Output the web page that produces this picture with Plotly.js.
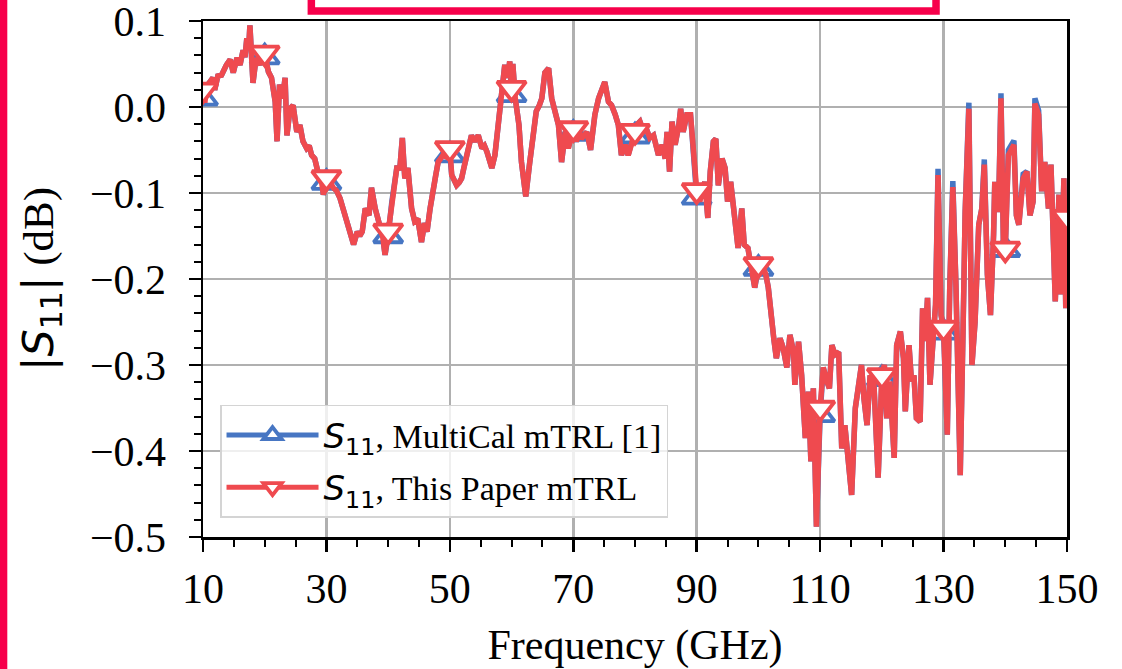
<!DOCTYPE html>
<html>
<head>
<meta charset="utf-8">
<script src="https://cdn.plot.ly/plotly-3.0.1.min.js"></script>
<style>
  html, body { margin: 0; padding: 0; background: #ffffff; }
  #chart { width: 1122px; height: 669px; }
</style>
</head>
<body>
<div id="chart"></div>
<script>
// Frequency sweep (GHz)
const freqGHz = [
  10.0, 10.3, 10.6, 11.1, 11.6, 11.9, 12.4, 13.0, 13.5, 13.8,
  14.4, 14.9, 15.5, 16.0, 16.5, 16.8, 17.1, 17.4, 17.6, 17.9,
  18.1, 18.6, 19.2, 19.6, 20.0, 20.6, 21.1, 21.7, 22.0, 22.4,
  22.9, 23.3, 23.6, 24.1, 24.6, 25.2, 25.7, 26.2, 26.8, 27.2,
  27.6, 28.1, 28.6, 29.1, 29.5, 30.0, 30.5, 31.1, 31.6, 32.2,
  32.7, 33.1, 33.5, 34.0, 34.4, 35.0, 35.4, 35.8, 36.3, 36.9,
  37.3, 37.9, 38.3, 38.7, 39.1, 39.5, 40.0, 40.6, 41.0, 41.4,
  41.9, 42.3, 42.7, 43.2, 43.8, 44.3, 44.8, 45.4, 45.9, 46.3,
  46.8, 47.3, 47.7, 48.1, 48.5, 48.9, 49.4, 50.0, 50.3, 50.7,
  51.1, 51.5, 51.9, 52.3, 52.7, 53.1, 53.5, 54.0, 54.3, 54.6,
  55.2, 55.6, 56.0, 56.4, 56.8, 57.3, 57.9, 58.4, 58.9, 59.4,
  59.7, 60.0, 60.2, 60.6, 61.2, 61.6, 62.0, 62.3, 62.9, 63.5,
  64.0, 64.5, 64.9, 65.4, 66.0, 66.5, 67.0, 67.6, 68.1, 68.7,
  69.2, 69.7, 70.0, 70.5, 71.0, 71.3, 71.8, 72.2, 72.8, 73.5,
  74.1, 74.6, 75.1, 75.7, 76.2, 76.8, 77.3, 77.8, 78.4, 78.9,
  79.5, 80.0, 80.4, 80.8, 81.2, 81.6, 82.0, 82.4, 83.0, 83.4,
  83.8, 84.4, 84.9, 85.2, 85.6, 86.0, 86.5, 87.1, 87.4, 87.8,
  88.4, 89.0, 89.4, 89.7, 90.0, 90.5, 91.0, 91.3, 91.8, 92.2,
  92.7, 93.1, 93.5, 94.1, 94.6, 95.0, 95.5, 96.1, 96.7, 97.3,
  97.7, 98.3, 98.8, 99.4, 100.0, 100.4, 100.8, 101.2, 101.6, 102.1,
  102.5, 102.9, 103.5, 104.0, 104.6, 105.1, 105.7, 105.9, 106.5, 107.0,
  107.6, 108.1, 108.5, 108.9, 109.4, 110.0, 110.5, 111.1, 111.5, 111.9,
  112.4, 113.0, 113.5, 114.0, 114.6, 115.1, 115.7, 116.2, 116.7, 117.1,
  117.6, 118.1, 118.7, 119.4, 120.0, 120.4, 120.8, 121.3, 122.0, 122.4,
  123.0, 123.5, 123.8, 124.4, 124.8, 125.2, 125.6, 126.2, 126.6, 127.0,
  127.4, 127.8, 128.3, 128.7, 129.1, 129.6, 130.0, 130.6, 131.0, 131.5,
  132.0, 132.7, 133.2, 133.5, 134.1, 134.6, 135.1, 135.7, 136.2, 136.6,
  137.1, 137.6, 138.1, 138.3, 138.9, 139.3, 139.7, 140.0, 140.5, 141.0,
  141.4, 141.8, 142.2, 142.9, 143.5, 144.0, 144.5, 144.8, 145.4, 145.9,
  146.4, 147.0, 147.4, 148.1, 148.7, 149.0, 149.5, 149.8, 150.0
];

// |S11| in dB, MultiCal mTRL [1]
const s11MultiCal = [
  0.010, 0.005, 0.024, 0.030, 0.034, 0.020, 0.036, 0.037, 0.045, 0.049,
  0.055, 0.040, 0.057, 0.049, 0.066, 0.058, 0.080, 0.068, 0.095, 0.060,
  0.028, 0.057, 0.049, 0.062, 0.058, 0.041, 0.034, 0.006, -0.040, 0.026,
  0.010, 0.034, -0.033, -0.002, 0.002, -0.029, -0.021, -0.040, -0.048, -0.045,
  -0.056, -0.060, -0.075, -0.080, -0.102, -0.088, -0.086, -0.094, -0.097, -0.106,
  -0.118, -0.125, -0.137, -0.148, -0.160, -0.145, -0.150, -0.145, -0.118, -0.126,
  -0.094, -0.118, -0.128, -0.141, -0.150, -0.172, -0.150, -0.110, -0.090, -0.071,
  -0.071, -0.036, -0.083, -0.071, -0.118, -0.133, -0.130, -0.157, -0.135, -0.145,
  -0.118, -0.091, -0.080, -0.064, -0.060, -0.056, -0.058, -0.056, -0.079, -0.085,
  -0.091, -0.088, -0.083, -0.070, -0.056, -0.045, -0.033, -0.040, -0.035, -0.033,
  -0.048, -0.045, -0.052, -0.060, -0.071, -0.056, -0.021, 0.018, 0.049, 0.034,
  0.053, 0.014, 0.050, 0.010, -0.021, -0.064, -0.085, -0.104, -0.067, -0.033,
  -0.005, 0.002, 0.010, 0.040, 0.045, 0.010, -0.005, -0.021, -0.064, -0.029,
  -0.048, -0.029, -0.031, -0.040, -0.030, -0.037, -0.033, -0.029, -0.050, -0.009,
  0.010, 0.018, 0.029, 0.006, 0.002, -0.009, -0.021, -0.056, -0.044, -0.056,
  -0.040, -0.034, -0.020, -0.017, -0.025, -0.021, -0.028, -0.036, -0.033, -0.044,
  -0.056, -0.044, -0.060, -0.029, -0.075, -0.017, -0.044, -0.021, -0.002, -0.029,
  -0.009, -0.009, -0.044, -0.080, -0.105, -0.110, -0.095, -0.087, -0.129, -0.075,
  -0.040, -0.037, -0.091, -0.060, -0.071, -0.110, -0.087, -0.126, -0.164, -0.118,
  -0.160, -0.164, -0.185, -0.210, -0.188, -0.190, -0.186, -0.195, -0.210, -0.253,
  -0.270, -0.292, -0.269, -0.280, -0.303, -0.265, -0.285, -0.323, -0.273, -0.312,
  -0.385, -0.331, -0.412, -0.327, -0.488, -0.358, -0.303, -0.319, -0.327, -0.277,
  -0.288, -0.285, -0.397, -0.370, -0.420, -0.451, -0.350, -0.319, -0.300, -0.339,
  -0.370, -0.312, -0.319, -0.431, -0.316, -0.300, -0.362, -0.319, -0.408, -0.277,
  -0.261, -0.292, -0.354, -0.277, -0.319, -0.312, -0.362, -0.366, -0.234, -0.272,
  -0.222, -0.323, -0.265, -0.230, -0.072, -0.242, -0.262, -0.381, -0.210, -0.086,
  -0.206, -0.428, -0.242, -0.122, 0.005, -0.300, -0.250, -0.137, -0.118, -0.061,
  -0.195, -0.242, -0.149, -0.087, -0.122, 0.016, -0.160, -0.166, -0.050, -0.043,
  -0.039, -0.126, -0.137, -0.078, -0.075, -0.126, -0.110, 0.010, -0.004, -0.098,
  -0.064, -0.118, -0.067, -0.226, -0.102, -0.218, -0.083, -0.234, -0.130
];

// |S11| in dB, this paper's mTRL
const s11ThisPaper = [
  0.020, 0.005, 0.024, 0.030, 0.034, 0.020, 0.036, 0.037, 0.045, 0.049,
  0.055, 0.040, 0.057, 0.049, 0.066, 0.058, 0.080, 0.068, 0.095, 0.060,
  0.028, 0.057, 0.049, 0.062, 0.063, 0.041, 0.034, 0.006, -0.040, 0.026,
  0.010, 0.034, -0.033, -0.002, 0.002, -0.029, -0.021, -0.040, -0.048, -0.045,
  -0.056, -0.060, -0.075, -0.080, -0.102, -0.082, -0.086, -0.094, -0.097, -0.106,
  -0.118, -0.125, -0.137, -0.148, -0.160, -0.145, -0.150, -0.145, -0.118, -0.126,
  -0.094, -0.118, -0.128, -0.141, -0.150, -0.172, -0.144, -0.110, -0.090, -0.071,
  -0.071, -0.036, -0.083, -0.071, -0.118, -0.133, -0.130, -0.157, -0.135, -0.145,
  -0.118, -0.091, -0.080, -0.064, -0.060, -0.056, -0.058, -0.048, -0.079, -0.085,
  -0.091, -0.088, -0.083, -0.070, -0.056, -0.045, -0.033, -0.040, -0.035, -0.033,
  -0.048, -0.045, -0.052, -0.060, -0.071, -0.056, -0.021, 0.018, 0.049, 0.034,
  0.053, 0.022, 0.050, 0.010, -0.021, -0.064, -0.085, -0.104, -0.067, -0.033,
  -0.005, 0.002, 0.010, 0.040, 0.045, 0.010, -0.005, -0.021, -0.064, -0.029,
  -0.048, -0.029, -0.025, -0.040, -0.030, -0.037, -0.033, -0.029, -0.050, -0.009,
  0.010, 0.018, 0.029, 0.006, 0.002, -0.009, -0.021, -0.056, -0.044, -0.056,
  -0.040, -0.028, -0.020, -0.017, -0.025, -0.021, -0.028, -0.036, -0.033, -0.044,
  -0.056, -0.044, -0.060, -0.029, -0.075, -0.017, -0.044, -0.021, -0.002, -0.029,
  -0.009, -0.009, -0.044, -0.080, -0.097, -0.110, -0.095, -0.087, -0.129, -0.075,
  -0.040, -0.037, -0.091, -0.060, -0.071, -0.110, -0.087, -0.126, -0.164, -0.118,
  -0.160, -0.164, -0.185, -0.210, -0.183, -0.190, -0.186, -0.195, -0.210, -0.253,
  -0.270, -0.292, -0.269, -0.280, -0.303, -0.265, -0.285, -0.323, -0.273, -0.312,
  -0.385, -0.331, -0.412, -0.327, -0.488, -0.350, -0.303, -0.319, -0.327, -0.277,
  -0.288, -0.285, -0.397, -0.370, -0.420, -0.451, -0.350, -0.319, -0.300, -0.339,
  -0.370, -0.312, -0.319, -0.431, -0.312, -0.300, -0.362, -0.319, -0.408, -0.277,
  -0.261, -0.292, -0.354, -0.277, -0.319, -0.312, -0.362, -0.366, -0.234, -0.272,
  -0.222, -0.323, -0.265, -0.230, -0.079, -0.242, -0.257, -0.381, -0.210, -0.093,
  -0.206, -0.428, -0.242, -0.122, -0.002, -0.300, -0.250, -0.137, -0.118, -0.067,
  -0.195, -0.242, -0.149, -0.087, -0.122, 0.010, -0.160, -0.165, -0.056, -0.048,
  -0.044, -0.126, -0.137, -0.083, -0.075, -0.126, -0.110, 0.004, -0.009, -0.098,
  -0.064, -0.118, -0.067, -0.226, -0.102, -0.218, -0.083, -0.234, -0.128
];

// Frequencies that carry a marker symbol
const markerFreqGHz = [10, 20, 30, 40, 50, 60, 70, 80, 90, 100, 110, 120, 130, 140, 150];

// Axis tick values
const xTickVals = [10, 30, 50, 70, 90, 110, 130, 150];
const yTickVals = [0.1, 0.0, -0.1, -0.2, -0.3, -0.4, -0.5];

const seriesNames = [
  '<span style="font-family:DejaVu Sans"><i>S</i><sub>11</sub></span>, MultiCal mTRL [1]',
  '<span style="font-family:DejaVu Sans"><i>S</i><sub>11</sub></span>, This Paper mTRL'
];

const BLUE = '#4776C3';
const RED = '#EF4A4F';
const SERIF = 'Liberation Serif, Times New Roman, serif';

// Marker points taken from a series at the marker frequencies, separated by gaps
function markerPoints(values) {
  const xs = [], ys = [];
  markerFreqGHz.forEach(function (f) {
    const i = freqGHz.indexOf(f);
    xs.push(f, null);
    ys.push(values[i], null);
  });
  return { xs: xs, ys: ys };
}

function lineTrace(values, color) {
  return {
    x: freqGHz, y: values, type: 'scatter', mode: 'lines',
    line: { color: color, width: 5.5 }, showlegend: false, hoverinfo: 'skip'
  };
}

function markerTrace(values, color, symbol, name, group) {
  const m = markerPoints(values);
  return {
    x: m.xs, y: m.ys, type: 'scatter', mode: 'lines+markers', connectgaps: false,
    name: name, legendgroup: group,
    line: { color: color, width: 5 },
    marker: { symbol: symbol, size: 25, color: '#ffffff', line: { color: color, width: 3.8 } }
  };
}

const data = [
  lineTrace(s11MultiCal, BLUE),
  markerTrace(s11MultiCal, BLUE, 'triangle-up', seriesNames[0], 'multical'),
  lineTrace(s11ThisPaper, RED),
  markerTrace(s11ThisPaper, RED, 'triangle-down', seriesNames[1], 'thispaper')
];

const axisCommon = {
  tickmode: 'array',
  ticks: 'outside', ticklen: 12, tickwidth: 2.5, tickcolor: '#000',
  showline: true, linecolor: '#000', linewidth: 2.5, mirror: true,
  showgrid: true, gridcolor: '#b0b0b0', gridwidth: 2.5, zeroline: false,
  ticklabeloverflow: 'allow'
};

const layout = {
  width: 1122, height: 669,
  margin: { l: 203, r: 55, t: 21, b: 132, pad: 0 },
  paper_bgcolor: '#ffffff', plot_bgcolor: '#ffffff',
  font: { family: SERIF, color: '#000', size: 41 },
  xaxis: Object.assign({}, axisCommon, {
    range: [10, 150], tickvals: xTickVals, tickformat: 'd',
    tickfont: { family: SERIF, size: 42, color: '#000' },
    minor: { tickmode: 'linear', tick0: 10, dtick: 5, ticks: 'outside', ticklen: 7, tickwidth: 2, tickcolor: '#000', showgrid: false },
    ticklabelstandoff: 1,
    title: { text: 'Frequency (GHz)', font: { family: SERIF, size: 42, color: '#000' }, standoff: 25 }
  }),
  yaxis: Object.assign({}, axisCommon, {
    range: [-0.5, 0.1], tickvals: yTickVals, tickformat: '.1f',
    tickfont: { family: SERIF, size: 42, color: '#000' },
    minor: { tickmode: 'linear', tick0: 0, dtick: 0.02, ticks: 'outside', ticklen: 7, tickwidth: 2, tickcolor: '#000', showgrid: false },
    ticklabelstandoff: 14,
    title: {
      text: '<span style="font-family:DejaVu Sans">|<i>S</i><sub>11</sub>|</span> (dB)',
      font: { family: SERIF, size: 43, color: '#000' }, standoff: 23
    }
  }),
  legend: {
    x: 0.0197, y: 0.256, xanchor: 'left', yanchor: 'top',
    bgcolor: 'rgba(255,255,255,0.8)', bordercolor: '#d4d4d4', borderwidth: 1.5,
    font: { family: SERIF, size: 34, color: '#000' },
    itemwidth: 92, traceorder: 'grouped', tracegroupgap: 5
  },
  shapes: [
    { type: 'rect', xref: 'paper', yref: 'paper', x0: -0.236, x1: -0.2265, y0: -0.3, y1: 1.1,
      fillcolor: '#F7004B', line: { width: 0 } },
    { type: 'rect', xref: 'paper', yref: 'paper', x0: 0.1254, x1: 0.8484, y0: 1.0194, y1: 1.09,
      fillcolor: 'rgba(0,0,0,0)', line: { color: '#F7004B', width: 7.5 } }
  ],
  showlegend: true
};

Plotly.newPlot('chart', data, layout, { displayModeBar: false, staticPlot: true });
</script>
</body>
</html>
